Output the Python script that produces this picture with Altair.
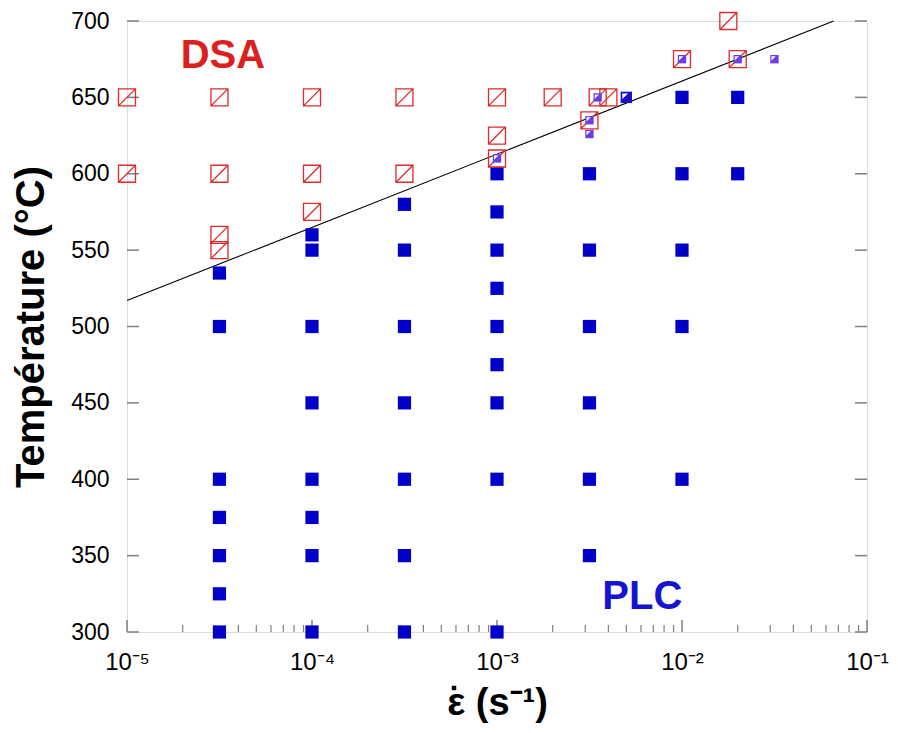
import altair as alt
import pandas as pd

# ---- data ----
plc_x = [3.16e-5]*7 + [1e-4]*8 + [3.16e-4]*7 + [1e-3]*9 + [3.16e-3]*6 + [1e-2]*5 + [2e-2]*2
plc_t = [300, 325, 350, 375, 400, 500, 535,
         300, 350, 375, 400, 450, 500, 550, 560,
         300, 350, 400, 450, 500, 550, 580,
         300, 400, 450, 475, 500, 525, 550, 575, 600,
         350, 400, 450, 500, 550, 600,
         400, 500, 550, 600, 650,
         600, 650]

dsa_x = [1e-5, 1e-5, 3.16e-5, 3.16e-5, 3.16e-5, 3.16e-5, 1e-4, 1e-4, 1e-4,
         3.16e-4, 3.16e-4, 1e-3, 1e-3, 1e-3, 2e-3, 3.16e-3, 3.5e-3, 4e-3,
         1e-2, 1.78e-2, 2e-2]
dsa_t = [600, 650, 550, 560, 600, 650, 575, 600, 650,
         600, 650, 610, 625, 650, 650, 635, 650, 650,
         675, 700, 675]

mix_x = [1e-3, 3.16e-3, 3.16e-3, 3.5e-3, 1e-2, 2e-2, 3.16e-2]
mix_t = [610, 635, 626, 650, 675, 675, 675]

trans_x = [5e-3]
trans_t = [650]

line_x = [1e-5, 0.066]
line_t = [517, 700]

label_text = ["DSA", "PLC"]
label_x = [3.3e-5, 6.1e-3]
label_t = [677, 323]
label_color = ["#dd1f1f", "#1414d2"]

y_ticks = [300, 350, 400, 450, 500, 550, 600, 650, 700]
x_major = [1e-5, 1e-4, 1e-3, 1e-2, 1e-1]
x_minor = [k * 10.0**e for e in [-5, -4, -3, -2] for k in range(2, 10)]

W, H = 740, 611
FONT = "Liberation Sans"

xscale = alt.Scale(type="log", domain=[1e-5, 1e-1])
yscale = alt.Scale(domain=[300, 700])

x_axis = alt.Axis(values=x_major, title="ε (s⁻¹)", grid=False, ticks=False, domain=False,
                  labelExpr="datum.value < 5e-5 ? '10⁻⁵' : datum.value < 5e-4 ? '10⁻⁴' : datum.value < 5e-3 ? '10⁻³' : datum.value < 5e-2 ? '10⁻²' : '10⁻¹'",
                  labelFontSize=24, labelPadding=18, titleFontSize=38, titleFontWeight="bold",
                  titlePadding=10, labelFlush=False)
y_axis = alt.Axis(values=y_ticks, title="Température (°C)", grid=False, ticks=False, domain=False,
                  labelFontSize=23, labelPadding=18, titleFontSize=40, titleFontWeight="bold",
                  titlePadding=19)

X = alt.X("x:Q", scale=xscale, axis=x_axis)
Y = alt.Y("t:Q", scale=yscale, axis=y_axis)

df_plc = pd.DataFrame({"x": plc_x, "t": plc_t})
df_dsa = pd.DataFrame({"x": dsa_x, "t": dsa_t})
df_mix = pd.DataFrame({"x": mix_x, "t": mix_t})
df_tr = pd.DataFrame({"x": trans_x, "t": trans_t})
df_line = pd.DataFrame({"x": line_x, "t": line_t})
df_lab = pd.DataFrame({"x": label_x, "t": label_t, "s": label_text, "c": label_color})
df_yt = pd.DataFrame({"t": y_ticks})
df_xmaj = pd.DataFrame({"x": x_major})
df_xmin = pd.DataFrame({"x": x_minor})

corner = "M-0.7,-0.7L0.3,-0.7L-0.7,0.3Z"
slash_sq = "M-1,-1L1,-1L1,1L-1,1Z M-1,1L1,-1"

line = alt.Chart(df_line).mark_line(color="black", strokeWidth=1.1).encode(x=X, y=Y)
plc = alt.Chart(df_plc).mark_square(color="#0000c8", size=175, opacity=1).encode(x=X, y=Y)
dsa = alt.Chart(df_dsa).mark_point(shape=slash_sq, filled=False, color="#dd2a2a",
                                   strokeWidth=1.3, size=289, opacity=1).encode(x=X, y=Y)
mix = alt.Chart(df_mix).mark_square(color="#6a3de8", size=70, opacity=1).encode(x=X, y=Y)
mix_c = alt.Chart(df_mix).mark_point(shape=corner, filled=True, color="white", size=70,
                                     opacity=1).encode(x=X, y=Y)
tr = alt.Chart(df_tr).mark_square(color="#1a10c8", size=130, opacity=1).encode(x=X, y=Y)
tr_c = alt.Chart(df_tr).mark_point(shape=corner, filled=True, color="white", size=130,
                                   opacity=1).encode(x=X, y=Y)
labels = alt.Chart(df_lab).mark_text(font=FONT, fontSize=40, fontWeight="bold").encode(
    x=X, y=Y, text="s:N", color=alt.Color("c:N", scale=None))

# dot over the epsilon of the x-axis title
eps_dot = alt.Chart(df_xmaj.head(1)).mark_point(shape="square", filled=True, color="black",
                                                size=20, opacity=1).encode(
    x=alt.value(W / 2 - 43), y=alt.value(H + 56))

tick_col = "#7f7f7f"
lt = alt.Chart(df_yt).mark_rule(color=tick_col, strokeWidth=1.5).encode(
    y=Y, x=alt.value(0), x2=alt.value(12))
rt = alt.Chart(df_yt).mark_rule(color=tick_col, strokeWidth=1.5).encode(
    y=Y, x=alt.value(W - 12), x2=alt.value(W))
bmaj = alt.Chart(df_xmaj).mark_rule(color=tick_col, strokeWidth=1.5).encode(
    x=X, y=alt.value(H), y2=alt.value(H - 12))
bmin = alt.Chart(df_xmin).mark_rule(color=tick_col, strokeWidth=1.2).encode(
    x=X, y=alt.value(H), y2=alt.value(H - 7))

chart = alt.layer(lt, rt, bmaj, bmin, line, plc, tr, tr_c, dsa, mix, mix_c, labels, eps_dot).properties(
    width=W, height=H, autosize=alt.AutoSizeParams(type="none"),
    padding={"left": 119, "top": 13, "right": 23, "bottom": 93}
).configure_view(stroke="#7f7f7f", strokeWidth=1.5).configure_axis(
    domain=False, ticks=False, grid=False, labelFont=FONT, titleFont=FONT,
    labelColor="black", titleColor="black"
).configure(background="white")

chart.save("out.html", embed_options={"renderer": "svg", "actions": False})
